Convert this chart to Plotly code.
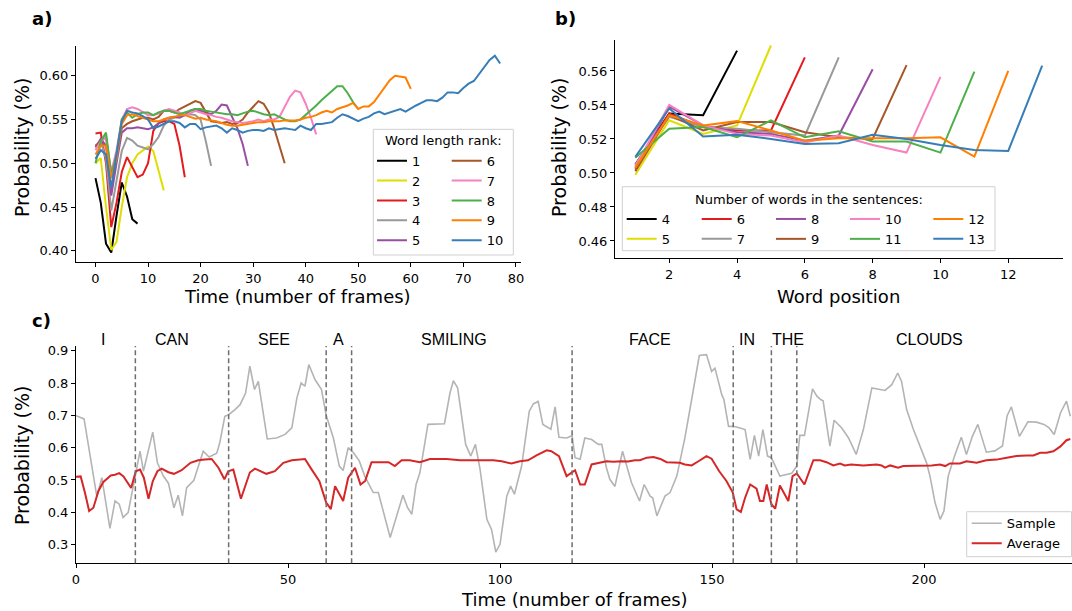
import plotly.graph_objects as go

# ---------------- data: panel a (word length rank) ----------------
RANK_NAMES = ["1", "2", "3", "4", "5", "6", "7", "8", "9", "10"]
RANK_1 = [0.483, 0.455, 0.408, 0.398, 0.44, 0.478, 0.462, 0.436, 0.431]
RANK_2 = [0.500, 0.506, 0.45, 0.401, 0.41, 0.45, 0.484, 0.50, 0.51, 0.515, 0.519, 0.514, 0.49, 0.469]
RANK_3 = [0.534, 0.535, 0.50, 0.427, 0.455, 0.49, 0.507, 0.496, 0.484, 0.487, 0.50, 0.537, 0.546,
          0.548, 0.548, 0.545, 0.52, 0.484]
RANK_4 = [0.52, 0.525, 0.505, 0.446, 0.48, 0.514, 0.529, 0.526, 0.52, 0.518, 0.516, 0.522, 0.53,
          0.543, 0.55, 0.552, 0.553, 0.555, 0.556, 0.555, 0.55, 0.525, 0.497]
RANK_5 = [0.518, 0.528, 0.52, 0.463, 0.50, 0.535, 0.54, 0.54, 0.541, 0.54, 0.539, 0.541, 0.545,
          0.55, 0.552, 0.553, 0.552, 0.555, 0.56, 0.562, 0.56, 0.558, 0.556, 0.56, 0.567, 0.566,
          0.553, 0.54, 0.522, 0.497]
RANK_6 = [0.52, 0.525, 0.53, 0.485, 0.51, 0.54, 0.545, 0.548, 0.55, 0.552, 0.552, 0.55, 0.553,
          0.56, 0.56, 0.558, 0.562, 0.565, 0.568, 0.571, 0.569, 0.558, 0.548, 0.547, 0.546, 0.547,
          0.545, 0.546, 0.55, 0.558, 0.565, 0.571, 0.568, 0.558, 0.54, 0.52, 0.50]
RANK_7 = [0.515, 0.525, 0.53, 0.49, 0.515, 0.55, 0.562, 0.564, 0.562, 0.558, 0.555, 0.555, 0.557,
          0.56, 0.562, 0.56, 0.558, 0.555, 0.557, 0.56, 0.558, 0.556, 0.555, 0.553, 0.552, 0.55,
          0.548, 0.547, 0.546, 0.547, 0.548, 0.55, 0.548, 0.55, 0.55, 0.553, 0.565, 0.576, 0.583,
          0.581, 0.568, 0.552, 0.533]
RANK_8 = [0.50, 0.525, 0.535, 0.487, 0.51, 0.55, 0.558, 0.552, 0.556, 0.558, 0.558, 0.555, 0.558,
          0.56, 0.56, 0.558, 0.556, 0.558, 0.56, 0.562, 0.562, 0.56, 0.559, 0.558, 0.557, 0.556,
          0.556, 0.555, 0.557, 0.559, 0.56, 0.558, 0.556, 0.555, 0.556, 0.553, 0.55, 0.548, 0.548,
          0.55, 0.555, 0.56, 0.566, 0.572, 0.577, 0.583, 0.588, 0.588, 0.58, 0.57, 0.562]
RANK_9 = [0.51, 0.52, 0.52, 0.483, 0.505, 0.545, 0.555, 0.556, 0.554, 0.552, 0.55, 0.548, 0.548,
          0.55, 0.552, 0.553, 0.555, 0.555, 0.553, 0.551, 0.552, 0.55, 0.549, 0.548, 0.546, 0.544,
          0.543, 0.543, 0.544, 0.545, 0.546, 0.547, 0.547, 0.548, 0.548, 0.548, 0.549, 0.549, 0.549,
          0.55, 0.552, 0.553, 0.555, 0.558, 0.56, 0.558, 0.562, 0.564, 0.566, 0.569, 0.562, 0.565,
          0.565, 0.57, 0.578, 0.587, 0.595, 0.60, 0.599, 0.598, 0.585]
RANK_10 = [0.505, 0.515, 0.51, 0.472, 0.51, 0.548, 0.56, 0.558, 0.557, 0.554, 0.55, 0.54, 0.542,
           0.545, 0.548, 0.548, 0.546, 0.541, 0.545, 0.545, 0.539, 0.541, 0.542, 0.543, 0.54, 0.535,
           0.54, 0.538, 0.535, 0.537, 0.538, 0.538, 0.537, 0.54, 0.538, 0.539, 0.54, 0.539, 0.538,
           0.543, 0.54, 0.538, 0.545, 0.545, 0.546, 0.547, 0.552, 0.556, 0.554, 0.551, 0.548, 0.551,
           0.553, 0.557, 0.559, 0.556, 0.558, 0.56, 0.562, 0.559, 0.563, 0.566, 0.569, 0.572, 0.572,
           0.571, 0.575, 0.581, 0.581, 0.580, 0.586, 0.591, 0.594, 0.602, 0.61, 0.618, 0.623, 0.614]
RANK_SERIES = [RANK_1, RANK_2, RANK_3, RANK_4, RANK_5, RANK_6, RANK_7, RANK_8, RANK_9, RANK_10]

# ---------------- data: panel b (number of words) ----------------
NWORDS_NAMES = ["4", "5", "6", "7", "8", "9", "10", "11", "12", "13"]
NW_4 = [0.505, 0.535, 0.534, 0.572]
NW_5 = [0.499, 0.531, 0.523, 0.528, 0.575]
NW_6 = [0.503, 0.535, 0.527, 0.525, 0.525, 0.568]
NW_7 = [0.505, 0.533, 0.527, 0.526, 0.524, 0.522, 0.568]
NW_8 = [0.502, 0.539, 0.528, 0.524, 0.523, 0.519, 0.522, 0.561]
NW_9 = [0.501, 0.534, 0.525, 0.530, 0.530, 0.524, 0.521, 0.520, 0.5635]
NW_10 = [0.504, 0.540, 0.528, 0.523, 0.522, 0.518, 0.522, 0.5165, 0.512, 0.5565]
NW_11 = [0.509, 0.526, 0.527, 0.521, 0.531, 0.521, 0.5245, 0.5185, 0.5185, 0.512, 0.5596]
NW_12 = [0.503, 0.534, 0.528, 0.5305, 0.525, 0.519, 0.5205, 0.5205, 0.5205, 0.521, 0.5096, 0.560]
NW_13 = [0.5095, 0.538, 0.5215, 0.5225, 0.520, 0.517, 0.5175, 0.5225, 0.520, 0.5165, 0.5135, 0.513, 0.5631]
NWORDS_SERIES = [NW_4, NW_5, NW_6, NW_7, NW_8, NW_9, NW_10, NW_11, NW_12, NW_13]

# ---------------- data: panel c (sample sentence) ----------------
WORDS = ["I", "CAN", "SEE", "A", "SMILING", "FACE", "IN", "THE", "CLOUDS"]
WORD_LABEL_FRAME = [6.4, 22.6, 46.7, 62, 89.2, 135.4, 158.2, 168, 201.4]
WORD_BOUNDARIES = [14, 36, 59, 65, 117, 155, 164, 170]

SAMPLE_T = [0.0, 1.9, 4.9, 6.1, 8.0, 9.2, 10.2, 11.1, 12.3, 15.1, 15.9, 18.1, 19.2, 20.6, 21.8, 23.1,
            24.1, 25.1, 26.1, 27.8, 30.0, 31.4, 33.2, 33.9, 35.1, 36.0, 37.5, 38.7, 40.0, 41.0, 42.1,
            43.0, 45.1, 47.3, 49.3, 50.9, 52.1, 53.1, 54.0, 54.9, 56.4, 57.9, 59.0, 60.0, 60.7, 62.1,
            63.0, 64.2, 65.4, 66.8, 68.1, 70.1, 71.3, 74.1, 75.2, 77.1, 78.2, 79.2, 80.2, 81.1, 83.0,
            84.7, 86.9, 88.2, 89.0, 90.0, 91.9, 93.1, 94.2, 95.3, 96.9, 98.0, 99.0, 100.0, 101.6,
            102.5, 103.4, 105.1, 106.9, 107.9, 109.0, 110.1, 112.0, 113.0, 113.9, 115.7, 117.0,
            117.7, 118.9, 120.0, 121.6, 123.2, 124.0, 125.1, 125.9, 127.1, 128.9, 131.0, 132.9,
            134.0, 135.4, 136.0, 137.0, 138.9, 140.1, 141.7, 143.6, 145.2, 147.0, 148.7, 149.9,
            150.7, 152.3, 152.8, 153.9, 154.9, 155.8, 157.8, 159.0, 160.0, 161.0, 162.0, 163.1,
            164.0, 166.0, 168.8, 170.0, 170.7, 171.8, 173.7, 174.7, 175.6, 176.2, 177.8, 178.8,
            180.6, 182.2, 184.0, 185.7, 187.7, 189.2, 190.8, 192.4, 193.8, 194.7, 195.9, 197.5,
            199.0, 200.6, 201.4, 202.6, 203.8, 204.7, 205.7, 207.2, 208.8, 210.0, 211.4, 212.7,
            214.7, 216.7, 218.5, 219.6, 220.6, 222.5, 224.5, 226.5, 228.3, 229.5, 230.7, 232.2,
            233.6, 234.5]
SAMPLE_P = [0.699, 0.689, 0.45, 0.507, 0.35, 0.435, 0.425, 0.384, 0.399, 0.589, 0.527, 0.648, 0.553,
            0.512, 0.49, 0.414, 0.453, 0.389, 0.476, 0.499, 0.589, 0.571, 0.583, 0.615, 0.697, 0.702,
            0.718, 0.733, 0.769, 0.852, 0.78, 0.805, 0.627, 0.63, 0.641, 0.661, 0.754, 0.80, 0.79,
            0.857, 0.81, 0.78, 0.70, 0.662, 0.63, 0.543, 0.529, 0.60, 0.585, 0.559, 0.512, 0.461,
            0.461, 0.322, 0.368, 0.453, 0.414, 0.394, 0.486, 0.522, 0.672, 0.672, 0.674, 0.769,
            0.807, 0.785, 0.61, 0.574, 0.61, 0.533, 0.378, 0.347, 0.277, 0.301, 0.45, 0.481, 0.456,
            0.543, 0.713, 0.736, 0.743, 0.672, 0.657, 0.726, 0.632, 0.63, 0.637, 0.569, 0.564, 0.63,
            0.625, 0.61, 0.61, 0.538, 0.502, 0.48, 0.589, 0.492, 0.435, 0.486, 0.45, 0.445, 0.389,
            0.45, 0.461, 0.512, 0.63, 0.749, 0.885, 0.888, 0.836, 0.846, 0.764, 0.749, 0.666, 0.666,
            0.664, 0.656, 0.564, 0.638, 0.574, 0.656, 0.574, 0.569, 0.512, 0.521, 0.543, 0.638,
            0.638, 0.782, 0.76, 0.749, 0.745, 0.605, 0.685, 0.661, 0.63, 0.579, 0.656, 0.785, 0.78,
            0.777, 0.795, 0.831, 0.805, 0.718, 0.656, 0.605, 0.553, 0.512, 0.43, 0.378, 0.404, 0.512,
            0.574, 0.632, 0.579, 0.635, 0.672, 0.586, 0.59, 0.605, 0.699, 0.726, 0.635, 0.68, 0.679,
            0.672, 0.661, 0.641, 0.708, 0.744, 0.697]

AVG_T = [0.0, 1.1, 2.1, 3.1, 4.1, 5.3, 6.4, 8.2, 9.2, 10.2, 11.2, 13.0, 14.1, 15.1, 16.0, 17.1, 18.1,
         19.2, 20.2, 21.8, 23.1, 24.9, 27.0, 28.8, 30.4, 32.0, 33.6, 35.0, 35.9, 37.1, 38.9, 41.0,
         42.2, 44.9, 46.9, 48.9, 50.9, 52.4, 54.0, 55.6, 57.4, 59.0, 60.1, 61.1, 63.0, 64.2, 65.8,
         67.1, 68.2, 69.7, 70.9, 72.5, 73.7, 75.2, 76.8, 78.7, 81.1, 83.5, 85.8, 87.4, 90.6, 94.5,
         98.4, 100.4, 102.7, 104.7, 106.6, 108.6, 111.0, 112.1, 113.9, 115.7, 117.7, 118.9, 120.0,
         121.6, 123.2, 125.1, 126.7, 128.7, 130.2, 131.8, 133.0, 134.6, 136.2, 137.8, 139.3, 140.9,
         142.4, 143.6, 145.2, 146.8, 148.7, 149.9, 151.7, 153.4, 154.9, 155.8, 156.8, 157.8, 159.0,
         160.5, 161.3, 162.1, 162.9, 164.0, 164.9, 166.0, 168.0, 169.0, 170.0, 171.8, 173.9, 175.5,
         177.0, 178.6, 180.2, 181.3, 182.8, 185.7, 188.8, 190.0, 190.8, 192.0, 193.9, 195.1, 199.0,
         201.8, 203.8, 205.0, 206.1, 208.5, 210.0, 212.4, 214.7, 217.1, 219.5, 221.8, 224.2, 225.8,
         227.4, 228.9, 230.5, 232.1, 233.6, 234.5]
AVG_P = [0.51, 0.511, 0.461, 0.404, 0.414, 0.466, 0.493, 0.514, 0.516, 0.521, 0.511, 0.475, 0.527,
         0.532, 0.507, 0.442, 0.496, 0.527, 0.535, 0.524, 0.519, 0.530, 0.553, 0.561, 0.563, 0.565,
         0.538, 0.502, 0.527, 0.532, 0.442, 0.523, 0.535, 0.519, 0.527, 0.553, 0.561, 0.563, 0.565,
         0.532, 0.496, 0.43, 0.41, 0.481, 0.435, 0.507, 0.538, 0.486, 0.497, 0.555, 0.555, 0.553,
         0.555, 0.543, 0.561, 0.561, 0.555, 0.565, 0.565, 0.565, 0.561, 0.56, 0.561, 0.558, 0.551,
         0.558, 0.561, 0.576, 0.592, 0.589, 0.574, 0.512, 0.53, 0.486, 0.486, 0.548, 0.553, 0.558,
         0.556, 0.558, 0.557, 0.561, 0.561, 0.569, 0.571, 0.565, 0.555, 0.553, 0.553, 0.548, 0.545,
         0.558, 0.574, 0.566, 0.527, 0.497, 0.461, 0.409, 0.401, 0.445, 0.486, 0.473, 0.435, 0.435,
         0.486, 0.425, 0.411, 0.483, 0.435, 0.512, 0.52, 0.486, 0.561, 0.561, 0.555, 0.545, 0.551,
         0.545, 0.548, 0.545, 0.548, 0.545, 0.538, 0.545, 0.538, 0.543, 0.543, 0.545, 0.548, 0.543,
         0.551, 0.551, 0.558, 0.553, 0.561, 0.563, 0.569, 0.574, 0.576, 0.576, 0.584, 0.584, 0.589,
         0.603, 0.623, 0.627]

# ---------------- styling ----------------
W, H = 1072, 611
COLORS_A = ["#000000", "#dede00", "#e41a1c", "#999999", "#984ea3",
            "#a65628", "#f781bf", "#4daf4a", "#ff7f00", "#377eb8"]
FONT = "DejaVu Sans"
AXFONT = dict(family=FONT, size=13, color="black")


def fx(p):
    return p / W


def fy(p):
    return 1 - p / H


fig = go.Figure()

# panel a traces
for i, (name, ys) in enumerate(zip(RANK_NAMES, RANK_SERIES)):
    fig.add_trace(go.Scatter(
        x=list(range(len(ys))), y=ys, mode="lines", name=name,
        line=dict(color=COLORS_A[i], width=2),
        xaxis="x", yaxis="y",
        legend="legend" if i < 5 else "legend2",
    ))

# panel b traces
b_legends = ["legend3", "legend3", "legend4", "legend4", "legend5", "legend5",
             "legend6", "legend6", "legend7", "legend7"]
for i, (name, ys) in enumerate(zip(NWORDS_NAMES, NWORDS_SERIES)):
    fig.add_trace(go.Scatter(
        x=list(range(1, len(ys) + 1)), y=ys, mode="lines", name=name,
        line=dict(color=COLORS_A[i], width=2),
        xaxis="x2", yaxis="y2", legend=b_legends[i],
    ))

# panel c traces
fig.add_trace(go.Scatter(x=SAMPLE_T, y=SAMPLE_P, mode="lines", name="Sample",
                         line=dict(color="#b4b4b4", width=1.6),
                         xaxis="x3", yaxis="y3", legend="legend8"))
fig.add_trace(go.Scatter(x=AVG_T, y=AVG_P, mode="lines", name="Average",
                         line=dict(color="#d62728", width=2),
                         xaxis="x3", yaxis="y3", legend="legend8"))

axis_common = dict(showgrid=False, zeroline=False, showline=True, linecolor="black",
                   linewidth=1, ticks="outside", ticklen=4, tickwidth=1,
                   tickcolor="black", tickfont=AXFONT)

shapes = []
for b in WORD_BOUNDARIES:
    shapes.append(dict(type="line", xref="x3", yref="y3 domain", x0=b, x1=b, y0=0, y1=1,
                       line=dict(color="#6e6e6e", width=1.5, dash="5px,3px")))

# legend frames (matplotlib style)
for (x0, y0, x1, y1) in [(373.3, 129.3, 513.3, 255.0), (622.3, 186.7, 995.0, 250.7),
                         (966.7, 511.7, 1071.5, 556.7)]:
    shapes.append(dict(type="rect", xref="paper", yref="paper",
                       x0=fx(x0), x1=fx(x1), y0=fy(y1), y1=fy(y0),
                       line=dict(color="#d0d0d0", width=1),
                       fillcolor="rgba(255,255,255,0.8)", layer="above"))

annotations = []
for w, t in zip(WORDS, WORD_LABEL_FRAME):
    annotations.append(dict(text=w, x=t, xref="x3", y=fy(339), yref="paper",
                            showarrow=False, xanchor="center", yanchor="middle",
                            font=dict(family="Liberation Sans", size=16, color="black")))

for txt, x, y in [("a)", 30, 19), ("b)", 553, 19), ("c)", 30, 320)]:
    annotations.append(dict(text="<b>%s</b>" % txt, x=fx(x), y=fy(y), xref="paper", yref="paper",
                            showarrow=False, xanchor="left", yanchor="middle",
                            font=dict(family=FONT, size=18, color="black")))

for txt, x, y, ang, sz in [("Probability (%)", 22, 148, -90, 19), ("Probability (%)", 559, 148, -90, 19),
                           ("Probability (%)", 22, 456, -90, 19),
                           ("Time (number of frames)", 297, 296, 0, 18), ("Word position", 838, 296, 0, 18),
                           ("Time (number of frames)", 574, 599, 0, 18)]:
    annotations.append(dict(text=txt, x=fx(x), y=fy(y), xref="paper", yref="paper",
                            showarrow=False, xanchor="center", yanchor="middle", textangle=ang,
                            font=dict(family=FONT, size=sz, color="black")))

for txt, x, y in [("Word length rank:", 443.3, 140), ("Number of words in the sentences:", 808.5, 199)]:
    annotations.append(dict(text=txt, x=fx(x), y=fy(y), xref="paper", yref="paper",
                            showarrow=False, xanchor="center", yanchor="middle",
                            font=dict(family=FONT, size=13, color="black")))


def leg(x_line_start, first_row_center):
    return dict(x=fx(x_line_start - 5), y=fy(first_row_center - 15), xanchor="left", yanchor="top",
                bgcolor="rgba(0,0,0,0)", borderwidth=0, font=AXFONT, itemwidth=30,
                orientation="v", traceorder="normal")


fig.update_layout(
    width=W, height=H,
    margin=dict(l=0, r=0, t=0, b=0, autoexpand=False),
    paper_bgcolor="white", plot_bgcolor="white",
    showlegend=True,
    xaxis=dict(domain=[fx(76), fx(521)], range=[-3.71, 80.97], anchor="y",
               tickvals=[0, 10, 20, 30, 40, 50, 60, 70, 80], **axis_common),
    yaxis=dict(domain=[fy(262.3), fy(46)], range=[0.3868, 0.634], anchor="x",
               tickvals=[0.40, 0.45, 0.50, 0.55, 0.60], tickformat=".2f", **axis_common),
    xaxis2=dict(domain=[fx(615), fx(1062.5)], range=[0.4, 13.6], anchor="y2",
                tickvals=[2, 4, 6, 8, 10, 12], **axis_common),
    yaxis2=dict(domain=[fy(258.3), fy(40.4)], range=[0.4498, 0.578], anchor="x2",
                tickvals=[0.46, 0.48, 0.50, 0.52, 0.54, 0.56], tickformat=".2f", **axis_common),
    xaxis3=dict(domain=[fx(76), 1.0], range=[0, 234.9], anchor="y3",
                tickvals=[0, 50, 100, 150, 200], **axis_common),
    yaxis3=dict(domain=[fy(563.3), fy(346)], range=[0.2421, 0.9146], anchor="x3",
                tickvals=[0.3, 0.4, 0.5, 0.6, 0.7, 0.8, 0.9], tickformat=".1f", **axis_common),
    legend=leg(377, 160.7),
    legend2=leg(451.7, 160.7),
    legend3=leg(626.7, 219),
    legend4=leg(701.7, 219),
    legend5=leg(776, 219),
    legend6=leg(850, 219),
    legend7=leg(933.3, 219),
    legend8=leg(971.7, 523.3),
    shapes=shapes,
    annotations=annotations,
)

# remove the browser's default 8px body margin so the figure fills the window exactly
fig.write_html("out.html",
               config={"displayModeBar": False},
               post_script="document.body.style.margin='0';document.body.style.overflow='hidden';")
